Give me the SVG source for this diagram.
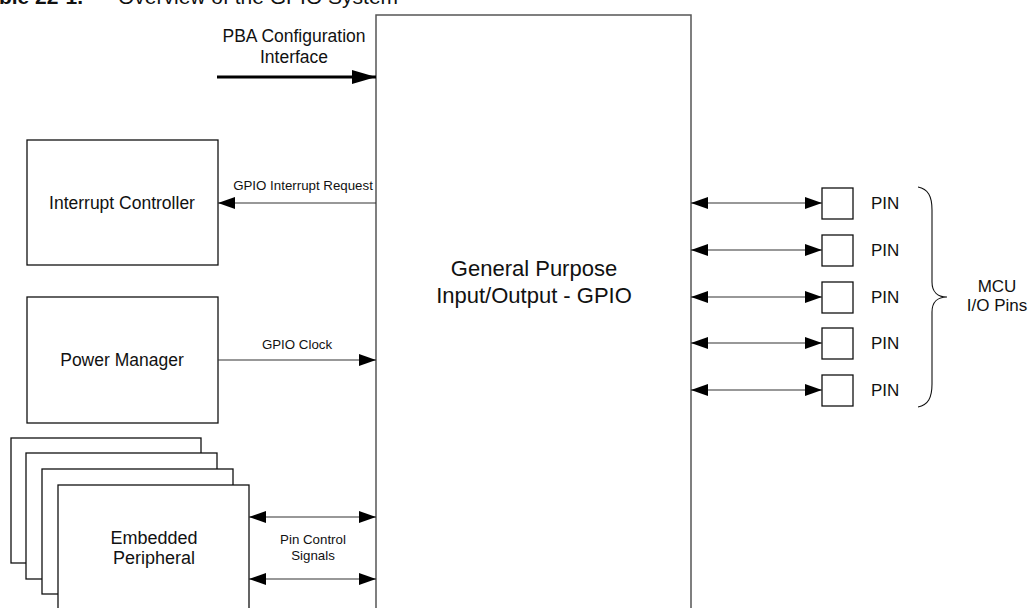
<svg xmlns="http://www.w3.org/2000/svg" width="1029" height="608" viewBox="0 0 1029 608">
<defs>
<style>
text{font-family:"Liberation Sans",Arial,sans-serif;fill:#111}
.box{fill:#fff;stroke:#111;stroke-width:1.3}
.lbl{font-size:17.5px;text-anchor:middle}
.sm{font-size:13.3px;text-anchor:middle}
.pin{font-size:17px}
.con{stroke:#333;stroke-width:1.2;fill:none}
</style>
<marker id="ah" markerUnits="userSpaceOnUse" markerWidth="18" markerHeight="13" refX="17" refY="6.5" orient="auto-start-reverse"><path d="M0,0.5 L17,6.5 L0,12.5 z" fill="#000"/></marker>
<marker id="ahb" markerUnits="userSpaceOnUse" markerWidth="25" markerHeight="16" refX="24" refY="8" orient="auto"><path d="M0,1 L24,8 L0,15 z" fill="#000"/></marker>
</defs>
<rect width="1029" height="608" fill="#fff"/>
<g id="title"><text x="-24" y="4" style="font-size:21px;font-weight:bold">Table 22-1.</text><text x="118" y="4" style="font-size:21px">Overview of the GPIO System</text></g>
<g id="gpio"><rect x="376" y="15" width="315" height="610" fill="#fff" stroke="#555" stroke-width="1.5"/><text class="lbl" x="534" y="276" style="font-size:22px">General Purpose</text><text class="lbl" x="534" y="303" style="font-size:22px">Input/Output - GPIO</text></g>
<g id="intc"><rect class="box" x="27" y="140" width="191" height="125"/><text class="lbl" x="122" y="209">Interrupt Controller</text></g>
<g id="pm"><rect class="box" x="27" y="297" width="191" height="126"/><text class="lbl" x="122" y="366">Power Manager</text></g>
<g id="periph"><rect class="box" x="11" y="438" width="190" height="125"/><rect class="box" x="26" y="453" width="191" height="126"/><rect class="box" x="42" y="469" width="191" height="125"/><rect class="box" x="58" y="485" width="191" height="130"/><text class="lbl" x="154" y="544" style="font-size:18px">Embedded</text><text class="lbl" x="154" y="564" style="font-size:18px">Peripheral</text></g>
<g id="pins">
<rect class="box" x="822" y="188" width="31" height="31"/><text class="pin" x="871" y="209">PIN</text>
<rect class="box" x="822" y="235" width="31" height="31"/><text class="pin" x="871" y="256">PIN</text>
<rect class="box" x="822" y="282" width="31" height="31"/><text class="pin" x="871" y="303">PIN</text>
<rect class="box" x="822" y="328" width="31" height="31"/><text class="pin" x="871" y="349">PIN</text>
<rect class="box" x="822" y="375" width="31" height="31"/><text class="pin" x="871" y="396">PIN</text>
</g>
<g id="mcu"><path d="M918,187 C928,189 932,196 932,210 L932,282 C932,292 938,297 947,297 C938,297 932,302 932,312 L932,384 C932,398 928,405 918,407" fill="none" stroke="#111" stroke-width="1.1"/><text class="lbl" x="997" y="292" style="font-size:17px">MCU</text><text class="lbl" x="997" y="311" style="font-size:17px">I/O Pins</text></g>
<g id="connectors">
<line x1="217" y1="77" x2="376" y2="77" stroke="#000" stroke-width="3" marker-end="url(#ahb)"/>
<text class="lbl" x="294" y="42" style="font-size:17.5px">PBA Configuration</text><text class="lbl" x="294" y="63" style="font-size:17.5px">Interface</text>
<line class="con" x1="376" y1="203" x2="218" y2="203" marker-end="url(#ah)"/>
<text class="sm" x="303" y="190">GPIO Interrupt Request</text>
<line class="con" x1="218" y1="360" x2="376" y2="360" marker-end="url(#ah)"/>
<text class="sm" x="297" y="349">GPIO Clock</text>
<line class="con" x1="249" y1="517" x2="376" y2="517" marker-start="url(#ah)" marker-end="url(#ah)"/>
<line class="con" x1="249" y1="579" x2="376" y2="579" marker-start="url(#ah)" marker-end="url(#ah)"/>
<text class="sm" x="313" y="544">Pin Control</text><text class="sm" x="313" y="560">Signals</text>
<line class="con" x1="691" y1="203" x2="822" y2="203" marker-start="url(#ah)" marker-end="url(#ah)"/>
<line class="con" x1="691" y1="250" x2="822" y2="250" marker-start="url(#ah)" marker-end="url(#ah)"/>
<line class="con" x1="691" y1="297" x2="822" y2="297" marker-start="url(#ah)" marker-end="url(#ah)"/>
<line class="con" x1="691" y1="343" x2="822" y2="343" marker-start="url(#ah)" marker-end="url(#ah)"/>
<line class="con" x1="691" y1="390" x2="822" y2="390" marker-start="url(#ah)" marker-end="url(#ah)"/>
</g>
</svg>
